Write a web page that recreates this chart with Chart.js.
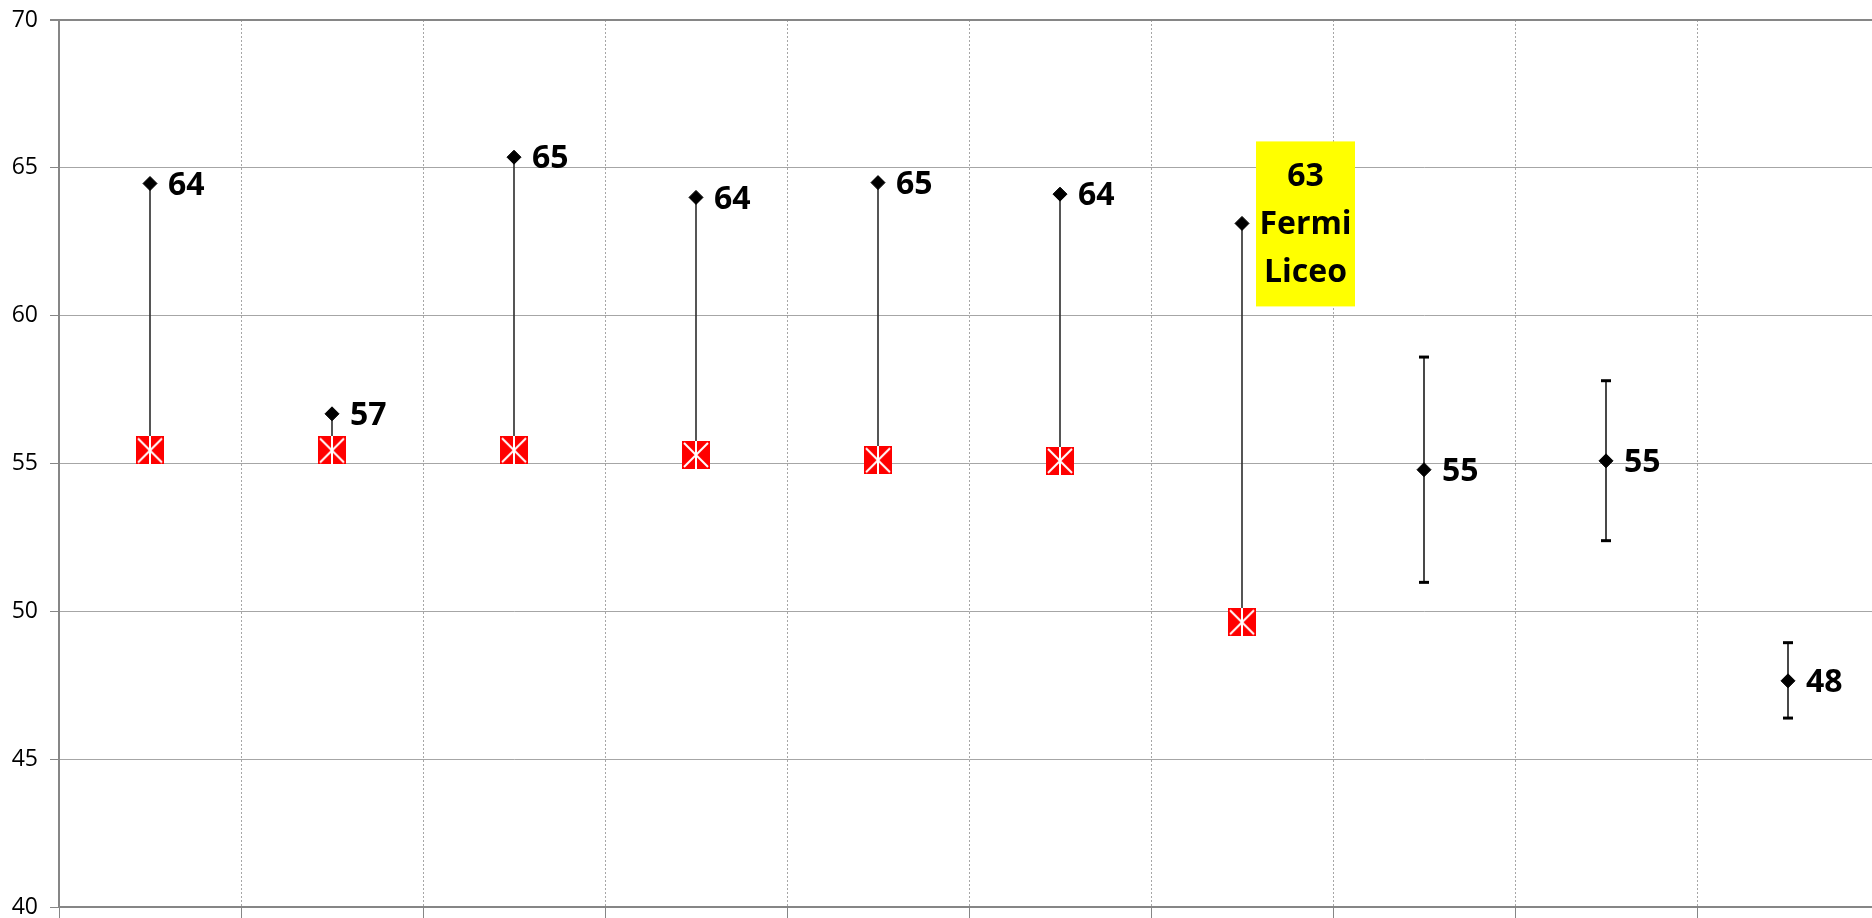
<!DOCTYPE html>
<html>
<head>
<meta charset="utf-8">
<script src="https://cdn.jsdelivr.net/npm/chart.js@4"></script>
<style>
  html, body { margin: 0; padding: 0; background: #fff; overflow: hidden; }
  #grafico { display: block; }
</style>
</head>
<body>
<canvas id="grafico" width="1880" height="918"></canvas>
<script>
// categorie (nessuna etichetta visibile sull'asse x)
const categorie = ['', '', '', '', '', '', '', '', '', ''];

// punteggi (rombi neri)
const punteggi = [64.47, 56.68, 65.36, 64.0, 64.5, 64.11, 63.12, 54.79, 55.09, 47.65];
// riferimento (quadrati rossi)
const riferimento = [55.44, 55.44, 55.45, 55.29, 55.11, 55.09, 49.63, null, null, null];
// barre di errore
const erroreAlto = [null, null, null, null, null, null, null, 58.6, 57.8, 48.94];
const erroreBasso = [null, null, null, null, null, null, null, 50.98, 52.39, 46.39];

// etichette dei punti
const etichette = ['64', '57', '65', '64', '65', '64', '63', '55', '55', '48'];
const evidenziato = 6;
const righeEvidenziate = ['Fermi', 'Liceo'];

// tacche asse y
const tickY = [40, 45, 50, 55, 60, 65, 70];

/* marker rosso con croce bianca */
const marker = document.createElement('canvas');
marker.width = 28; marker.height = 28;
(() => {
  const c = marker.getContext('2d');
  c.fillStyle = '#ff0000';
  c.fillRect(0, 0, 28, 28);
  c.strokeStyle = '#ffffff';
  c.lineWidth = 2;
  c.beginPath();
  c.moveTo(2, 2); c.lineTo(26, 26);
  c.moveTo(26, 2); c.lineTo(2, 26);
  c.moveTo(14, 0); c.lineTo(14, 28);
  c.stroke();
})();

/* collegamenti tra rosso e nero */
const collegamenti = punteggi.map((v, i) => riferimento[i] == null ? null : [riferimento[i], v]);
const intervalli = erroreAlto.map((v, i) => v == null ? null : [erroreBasso[i], v]);

/* plugin etichette */
const pluginEtichette = {
  id: 'etichette',
  afterDatasetsDraw(chart) {
    const meta = chart.getDatasetMeta(0);
    const ctx = chart.ctx;
    ctx.save();
    ctx.font = 'bold 32px "Open Sans"';
    ctx.fillStyle = '#000';
    meta.data.forEach((pt, i) => {
      if (punteggi[i] == null) return;
      const x = pt.x, y = pt.y;
      if (i === evidenziato) {
        const left = x + 14, top = y - 82, w = 99, h = 165;
        ctx.fillStyle = '#ffff00';
        ctx.fillRect(left, top, w, h);
        ctx.fillStyle = '#000';
        ctx.textAlign = 'center';
        ctx.textBaseline = 'middle';
        const righe = [etichette[i]].concat(righeEvidenziate);
        righe.forEach((t, k) => ctx.fillText(t, left + w / 2, y - 48 + k * 48 + 1));
      } else {
        ctx.textAlign = 'left';
        ctx.textBaseline = 'middle';
        ctx.fillText(etichette[i], x + 18, y + 2);
      }
    });
    ctx.restore();
  }
};

const ctx = document.getElementById('grafico').getContext('2d');

new Chart(ctx, {
  type: 'bar',
  data: {
    labels: categorie,
    datasets: [
      {
        type: 'line',
        label: 'Punteggio',
        data: punteggi,
        showLine: false,
        pointStyle: 'rectRot',
        pointRadius: 7,
        pointBackgroundColor: '#000',
        pointBorderColor: '#000',
        pointBorderWidth: 1,
        order: 1
      },
      {
        type: 'line',
        label: 'Errore alto',
        data: erroreAlto,
        showLine: false,
        pointStyle: 'line',
        pointRadius: 5,
        pointBorderColor: '#000',
        pointBorderWidth: 3,
        order: 1
      },
      {
        type: 'line',
        label: 'Errore basso',
        data: erroreBasso,
        showLine: false,
        pointStyle: 'line',
        pointRadius: 5,
        pointBorderColor: '#000',
        pointBorderWidth: 3,
        order: 1
      },
      {
        type: 'line',
        label: 'Riferimento',
        data: riferimento,
        showLine: false,
        pointStyle: marker,
        pointRadius: 14,
        order: 2
      },
      {
        label: 'Collegamenti',
        data: collegamenti,
        backgroundColor: '#333',
        borderWidth: 0,
        barThickness: 1,
        grouped: false,
        order: 3
      },
      {
        label: 'Intervalli',
        data: intervalli,
        backgroundColor: '#222',
        borderWidth: 0,
        barThickness: 1,
        grouped: false,
        order: 3
      }
    ]
  },
  options: {
    responsive: false,
    animation: false,
    devicePixelRatio: 1,
    layout: { autoPadding: false, padding: { top: 20, right: 1, left: 0, bottom: 0 } },
    plugins: {
      legend: { display: false },
      tooltip: { enabled: false }
    },
    scales: {
      x: {
        ticks: { display: false },
        grid: {
          color: '#a6a6a6',
          lineWidth: 1,
          tickLength: 11,
          tickColor: '#868686'
        },
        border: { color: '#868686', width: 2, dash: [2, 2] },
        afterFit: s => { s.height = 11; s.paddingLeft = 0; s.paddingRight = 0; }
      },
      y: {
        min: tickY[0],
        max: tickY[tickY.length - 1],
        afterBuildTicks: s => { s.ticks = tickY.map(v => ({ value: v })); },
        ticks: {
          color: '#000',
          padding: 12,
          font: { family: 'Open Sans', size: 23 }
        },
        grid: {
          color: c => c.tick && c.tick.value === 70 ? '#868686' : '#a6a6a6',
          lineWidth: c => c.tick && c.tick.value === 70 ? 2 : 1,
          tickLength: 9,
          tickColor: '#868686'
        },
        border: { color: '#868686', width: 2 },
        afterFit: s => { s.width = 59; s.paddingTop = 0; s.paddingBottom = 0; }
      }
    }
  },
  plugins: [pluginEtichette]
});
</script>
</body>
</html>
